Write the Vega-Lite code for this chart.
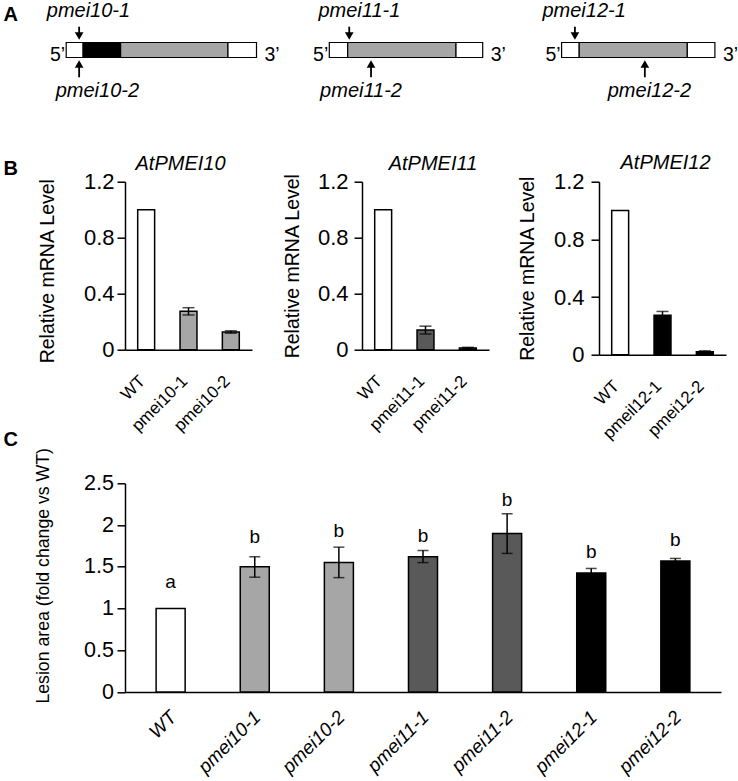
{
  "$schema": "https://vega.github.io/schema/vega-lite/v6.json",
  "padding": {"left": 3, "top": 0, "right": 0, "bottom": 0},
  "background": "white",
  "config": {
    "font": "Liberation Sans",
    "view": {"stroke": null},
    "axis": {"domainColor": "black", "tickColor": "black", "labelColor": "black", "titleColor": "black", "grid": false, "titleFontWeight": "normal", "domainWidth": 1.5, "tickWidth": 1.5},
    "title": {"color": "black"},
    "text": {"color": "black"}
  },
  "datasets": {
    "segments": [
      {"gene": "AtPMEI10", "pos": 0, "pos_end": 8.9, "part": "UTR"},
      {"gene": "AtPMEI10", "pos": 8.9, "pos_end": 28.6, "part": "SP"},
      {"gene": "AtPMEI10", "pos": 28.6, "pos_end": 85, "part": "PMEI"},
      {"gene": "AtPMEI10", "pos": 85, "pos_end": 100, "part": "UTR"},
      {"gene": "AtPMEI11", "pos": 0, "pos_end": 12, "part": "UTR"},
      {"gene": "AtPMEI11", "pos": 12, "pos_end": 82.6, "part": "PMEI"},
      {"gene": "AtPMEI11", "pos": 82.6, "pos_end": 100, "part": "UTR"},
      {"gene": "AtPMEI12", "pos": 0, "pos_end": 11.5, "part": "UTR"},
      {"gene": "AtPMEI12", "pos": 11.5, "pos_end": 82, "part": "PMEI"},
      {"gene": "AtPMEI12", "pos": 82, "pos_end": 100, "part": "UTR"}
    ],
    "inserts": [
      {"gene": "AtPMEI10", "allele": "pmei10-1", "pos": 6.8, "label_pos": 11.7, "side": "above"},
      {"gene": "AtPMEI10", "allele": "pmei10-2", "pos": 6.8, "label_pos": 16.4, "side": "below"},
      {"gene": "AtPMEI11", "allele": "pmei11-1", "pos": 13.0, "label_pos": 19.6, "side": "above"},
      {"gene": "AtPMEI11", "allele": "pmei11-2", "pos": 27.2, "label_pos": 20.7, "side": "below"},
      {"gene": "AtPMEI12", "allele": "pmei12-1", "pos": 8.7, "label_pos": 14.7, "side": "above"},
      {"gene": "AtPMEI12", "allele": "pmei12-2", "pos": 54.3, "label_pos": 57.3, "side": "below"}
    ],
    "ends": [
      {"end": "5’", "where": "start", "pos": 0},
      {"end": "3’", "where": "stop", "pos": 100}
    ],
    "mrna": [
      {"gene": "AtPMEI10", "line": "WT", "group": "WT", "value": 1.0, "lo": 1.0, "hi": 1.0},
      {"gene": "AtPMEI10", "line": "pmei10-1", "group": "pmei10", "value": 0.275, "lo": 0.248, "hi": 0.30},
      {"gene": "AtPMEI10", "line": "pmei10-2", "group": "pmei10", "value": 0.127, "lo": 0.118, "hi": 0.135},
      {"gene": "AtPMEI11", "line": "WT", "group": "WT", "value": 1.0, "lo": 1.0, "hi": 1.0},
      {"gene": "AtPMEI11", "line": "pmei11-1", "group": "pmei11", "value": 0.14, "lo": 0.112, "hi": 0.168},
      {"gene": "AtPMEI11", "line": "pmei11-2", "group": "pmei11", "value": 0.012, "lo": 0.007, "hi": 0.017},
      {"gene": "AtPMEI12", "line": "WT", "group": "WT", "value": 1.0, "lo": 1.0, "hi": 1.0},
      {"gene": "AtPMEI12", "line": "pmeil12-1", "group": "pmei12", "value": 0.273, "lo": 0.246, "hi": 0.30},
      {"gene": "AtPMEI12", "line": "pmei12-2", "group": "pmei12", "value": 0.02, "lo": 0.013, "hi": 0.027}
    ],
    "lesion": [
      {"line": "WT", "group": "WT", "value": 1.0, "lo": 1.0, "hi": 1.0, "sig": "a", "sig_y": 1.25},
      {"line": "pmei10-1", "group": "pmei10", "value": 1.50, "lo": 1.375, "hi": 1.62, "sig": "b", "sig_y": 1.79},
      {"line": "pmei10-2", "group": "pmei10", "value": 1.55, "lo": 1.37, "hi": 1.735, "sig": "b", "sig_y": 1.855},
      {"line": "pmei11-1", "group": "pmei11", "value": 1.62, "lo": 1.55, "hi": 1.695, "sig": "b", "sig_y": 1.80},
      {"line": "pmei11-2", "group": "pmei11", "value": 1.90, "lo": 1.66, "hi": 2.135, "sig": "b", "sig_y": 2.23},
      {"line": "pmei12-1", "group": "pmei12", "value": 1.425, "lo": 1.37, "hi": 1.48, "sig": "b", "sig_y": 1.60},
      {"line": "pmei12-2", "group": "pmei12", "value": 1.57, "lo": 1.54, "hi": 1.60, "sig": "b", "sig_y": 1.75}
    ]
  },
  "bounds": "flush",
  "spacing": 181.7,
  "resolve": {"scale": {"fill": "independent"}},
  "vconcat": [
    {
      "bounds": "flush",
      "spacing": 72.3,
      "hconcat": [
        {
          "width": 131.5, "height": 100,
          "resolve": {"scale": {"x": "independent"}},
          "layer": [
            {
              "encoding": {"x": {"field": "pos", "type": "quantitative", "scale": {"domain": [30.9, 100], "nice": false, "zero": false}, "axis": null}},
              "layer": [
                {"data": {"name": "segments"}, "transform": [{"filter": "datum.gene==='AtPMEI10'"}],
                 "mark": {"type": "rect", "stroke": "black", "strokeWidth": 1.2},
                 "encoding": {"x2": {"field": "pos_end"}, "y": {"datum": -1.05, "type": "quantitative", "scale": {"domain": [-7, 7], "nice": false, "zero": false}, "axis": null}, "y2": {"datum": 1.05},
                   "fill": {"field": "part", "type": "nominal", "scale": {"domain": ["UTR", "SP", "PMEI"], "range": ["#ffffff", "#000000", "#a6a6a6"]}, "legend": null}}},
                {"data": {"name": "inserts"}, "transform": [{"filter": "datum.gene==='AtPMEI10' && datum.side==='above'"}],
                 "mark": {"type": "rule", "strokeWidth": 1.8, "color": "black"},
                 "encoding": {"y": {"datum": 3.26, "type": "quantitative", "axis": null}, "y2": {"datum": 2.0}}},
                {"data": {"name": "inserts"}, "transform": [{"filter": "datum.gene==='AtPMEI10' && datum.side==='above'"}],
                 "mark": {"type": "point", "shape": "triangle-down", "size": 75, "filled": true, "color": "black", "opacity": 1},
                 "encoding": {"y": {"datum": 1.95, "type": "quantitative", "axis": null}}},
                {"data": {"name": "inserts"}, "transform": [{"filter": "datum.gene==='AtPMEI10' && datum.side==='below'"}],
                 "mark": {"type": "rule", "strokeWidth": 1.8, "color": "black"},
                 "encoding": {"y": {"datum": -3.82, "type": "quantitative", "axis": null}, "y2": {"datum": -2.0}}},
                {"data": {"name": "inserts"}, "transform": [{"filter": "datum.gene==='AtPMEI10' && datum.side==='below'"}],
                 "mark": {"type": "point", "shape": "triangle-up", "size": 75, "filled": true, "color": "black", "opacity": 1},
                 "encoding": {"y": {"datum": -1.95, "type": "quantitative", "axis": null}}},
                {"data": {"name": "inserts"}, "transform": [{"filter": "datum.gene==='AtPMEI10' && datum.side==='above'"}],
                 "mark": {"type": "text", "fontSize": 20, "fontStyle": "italic", "baseline": "alphabetic"},
                 "encoding": {"x": {"field": "label_pos", "type": "quantitative", "axis": null}, "y": {"datum": 4.66, "type": "quantitative", "axis": null}, "text": {"field": "allele"}}},
                {"data": {"name": "inserts"}, "transform": [{"filter": "datum.gene==='AtPMEI10' && datum.side==='below'"}],
                 "mark": {"type": "text", "fontSize": 20, "fontStyle": "italic", "baseline": "alphabetic"},
                 "encoding": {"x": {"field": "label_pos", "type": "quantitative", "axis": null}, "y": {"datum": -6.54, "type": "quantitative", "axis": null}, "text": {"field": "allele"}}},
                {"data": {"name": "ends"}, "transform": [{"filter": "datum.where==='start'"}],
                 "mark": {"type": "text", "fontSize": 19.5, "baseline": "alphabetic", "align": "right", "dx": -1},
                 "encoding": {"y": {"datum": -1.55, "type": "quantitative", "axis": null}, "text": {"field": "end"}}},
                {"data": {"name": "ends"}, "transform": [{"filter": "datum.where==='stop'"}],
                 "mark": {"type": "text", "fontSize": 19.5, "baseline": "alphabetic", "align": "left", "dx": 8},
                 "encoding": {"y": {"datum": -1.55, "type": "quantitative", "axis": null}, "text": {"field": "end"}}}
              ]
            },
            {"data": {"values": [{"panel": "A"}]},
             "mark": {"type": "text", "fontSize": 20, "fontWeight": "bold", "baseline": "alphabetic", "align": "left"},
             "encoding": {"x": {"datum": -0.924, "type": "quantitative", "scale": {"domain": [0, 1], "nice": false, "zero": false}, "axis": null}, "y": {"datum": 4.1, "type": "quantitative", "axis": null}, "text": {"field": "panel"}}}
          ]
        },
        {
          "width": 153.4, "height": 100,
          "encoding": {"x": {"field": "pos", "type": "quantitative", "scale": {"domain": [0, 100], "nice": false, "zero": false}, "axis": null}},
          "layer": [
            {"data": {"name": "segments"}, "transform": [{"filter": "datum.gene==='AtPMEI11'"}],
             "mark": {"type": "rect", "stroke": "black", "strokeWidth": 1.2},
             "encoding": {"x2": {"field": "pos_end"}, "y": {"datum": -1.05, "type": "quantitative", "scale": {"domain": [-7, 7], "nice": false, "zero": false}, "axis": null}, "y2": {"datum": 1.05},
               "fill": {"field": "part", "type": "nominal", "scale": {"domain": ["UTR", "SP", "PMEI"], "range": ["#ffffff", "#000000", "#a6a6a6"]}, "legend": null}}},
            {"data": {"name": "inserts"}, "transform": [{"filter": "datum.gene==='AtPMEI11' && datum.side==='above'"}],
             "mark": {"type": "rule", "strokeWidth": 1.8, "color": "black"},
             "encoding": {"y": {"datum": 3.26, "type": "quantitative", "axis": null}, "y2": {"datum": 2.0}}},
            {"data": {"name": "inserts"}, "transform": [{"filter": "datum.gene==='AtPMEI11' && datum.side==='above'"}],
             "mark": {"type": "point", "shape": "triangle-down", "size": 75, "filled": true, "color": "black", "opacity": 1},
             "encoding": {"y": {"datum": 1.95, "type": "quantitative", "axis": null}}},
            {"data": {"name": "inserts"}, "transform": [{"filter": "datum.gene==='AtPMEI11' && datum.side==='below'"}],
             "mark": {"type": "rule", "strokeWidth": 1.8, "color": "black"},
             "encoding": {"y": {"datum": -3.82, "type": "quantitative", "axis": null}, "y2": {"datum": -2.0}}},
            {"data": {"name": "inserts"}, "transform": [{"filter": "datum.gene==='AtPMEI11' && datum.side==='below'"}],
             "mark": {"type": "point", "shape": "triangle-up", "size": 75, "filled": true, "color": "black", "opacity": 1},
             "encoding": {"y": {"datum": -1.95, "type": "quantitative", "axis": null}}},
            {"data": {"name": "inserts"}, "transform": [{"filter": "datum.gene==='AtPMEI11' && datum.side==='above'"}],
             "mark": {"type": "text", "fontSize": 20, "fontStyle": "italic", "baseline": "alphabetic"},
             "encoding": {"x": {"field": "label_pos", "type": "quantitative", "axis": null}, "y": {"datum": 4.66, "type": "quantitative", "axis": null}, "text": {"field": "allele"}}},
            {"data": {"name": "inserts"}, "transform": [{"filter": "datum.gene==='AtPMEI11' && datum.side==='below'"}],
             "mark": {"type": "text", "fontSize": 20, "fontStyle": "italic", "baseline": "alphabetic"},
             "encoding": {"x": {"field": "label_pos", "type": "quantitative", "axis": null}, "y": {"datum": -6.54, "type": "quantitative", "axis": null}, "text": {"field": "allele"}}},
            {"data": {"name": "ends"}, "transform": [{"filter": "datum.where==='start'"}],
             "mark": {"type": "text", "fontSize": 19.5, "baseline": "alphabetic", "align": "right", "dx": -1},
             "encoding": {"y": {"datum": -1.55, "type": "quantitative", "axis": null}, "text": {"field": "end"}}},
            {"data": {"name": "ends"}, "transform": [{"filter": "datum.where==='stop'"}],
             "mark": {"type": "text", "fontSize": 19.5, "baseline": "alphabetic", "align": "left", "dx": 8},
             "encoding": {"y": {"datum": -1.55, "type": "quantitative", "axis": null}, "text": {"field": "end"}}}
          ]
        },
        {
          "width": 159.3, "height": 100,
          "encoding": {"x": {"field": "pos", "type": "quantitative", "scale": {"domain": [-3.9, 100], "nice": false, "zero": false}, "axis": null}},
          "layer": [
            {"data": {"name": "segments"}, "transform": [{"filter": "datum.gene==='AtPMEI12'"}],
             "mark": {"type": "rect", "stroke": "black", "strokeWidth": 1.2},
             "encoding": {"x2": {"field": "pos_end"}, "y": {"datum": -1.05, "type": "quantitative", "scale": {"domain": [-7, 7], "nice": false, "zero": false}, "axis": null}, "y2": {"datum": 1.05},
               "fill": {"field": "part", "type": "nominal", "scale": {"domain": ["UTR", "SP", "PMEI"], "range": ["#ffffff", "#000000", "#a6a6a6"]}, "legend": null}}},
            {"data": {"name": "inserts"}, "transform": [{"filter": "datum.gene==='AtPMEI12' && datum.side==='above'"}],
             "mark": {"type": "rule", "strokeWidth": 1.8, "color": "black"},
             "encoding": {"y": {"datum": 3.26, "type": "quantitative", "axis": null}, "y2": {"datum": 2.0}}},
            {"data": {"name": "inserts"}, "transform": [{"filter": "datum.gene==='AtPMEI12' && datum.side==='above'"}],
             "mark": {"type": "point", "shape": "triangle-down", "size": 75, "filled": true, "color": "black", "opacity": 1},
             "encoding": {"y": {"datum": 1.95, "type": "quantitative", "axis": null}}},
            {"data": {"name": "inserts"}, "transform": [{"filter": "datum.gene==='AtPMEI12' && datum.side==='below'"}],
             "mark": {"type": "rule", "strokeWidth": 1.8, "color": "black"},
             "encoding": {"y": {"datum": -3.82, "type": "quantitative", "axis": null}, "y2": {"datum": -2.0}}},
            {"data": {"name": "inserts"}, "transform": [{"filter": "datum.gene==='AtPMEI12' && datum.side==='below'"}],
             "mark": {"type": "point", "shape": "triangle-up", "size": 75, "filled": true, "color": "black", "opacity": 1},
             "encoding": {"y": {"datum": -1.95, "type": "quantitative", "axis": null}}},
            {"data": {"name": "inserts"}, "transform": [{"filter": "datum.gene==='AtPMEI12' && datum.side==='above'"}],
             "mark": {"type": "text", "fontSize": 20, "fontStyle": "italic", "baseline": "alphabetic"},
             "encoding": {"x": {"field": "label_pos", "type": "quantitative", "axis": null}, "y": {"datum": 4.66, "type": "quantitative", "axis": null}, "text": {"field": "allele"}}},
            {"data": {"name": "inserts"}, "transform": [{"filter": "datum.gene==='AtPMEI12' && datum.side==='below'"}],
             "mark": {"type": "text", "fontSize": 20, "fontStyle": "italic", "baseline": "alphabetic"},
             "encoding": {"x": {"field": "label_pos", "type": "quantitative", "axis": null}, "y": {"datum": -6.54, "type": "quantitative", "axis": null}, "text": {"field": "allele"}}},
            {"data": {"name": "ends"}, "transform": [{"filter": "datum.where==='start'"}],
             "mark": {"type": "text", "fontSize": 19.5, "baseline": "alphabetic", "align": "right", "dx": -1},
             "encoding": {"y": {"datum": -1.55, "type": "quantitative", "axis": null}, "text": {"field": "end"}}},
            {"data": {"name": "ends"}, "transform": [{"filter": "datum.where==='stop'"}],
             "mark": {"type": "text", "fontSize": 19.5, "baseline": "alphabetic", "align": "left", "dx": 8},
             "encoding": {"y": {"datum": -1.55, "type": "quantitative", "axis": null}, "text": {"field": "end"}}}
          ]
        }
      ]
    },
    {
      "bounds": "flush",
      "spacing": 301.6,
      "resolve": {"scale": {"fill": "independent"}},
      "vconcat": [
        {
          "bounds": "flush",
          "spacing": 110,
          "hconcat": [
            {
              "width": 127, "height": 168,
              "resolve": {"scale": {"x": "independent"}, "axis": {"x": "independent"}},
              "layer": [
                {
                  "data": {"name": "mrna"},
                  "transform": [{"filter": "datum.gene==='AtPMEI10'"}],
                  "encoding": {"x": {"field": "line", "type": "nominal", "sort": null, "scale": {"paddingInner": 0.6, "paddingOuter": 0.3},
                    "axis": {"title": null, "labelAngle": -45, "labelAlign": "right", "labelBaseline": "alphabetic", "labelFontSize": 17, "ticks": false, "tickSize": 0, "labelPadding": 32}}},
                  "layer": [
                    {"mark": {"type": "bar", "stroke": "black", "strokeWidth": 1.5},
                     "encoding": {"y": {"field": "value", "type": "quantitative", "scale": {"domain": [0, 1.2], "nice": false},
                       "axis": {"title": "Relative mRNA Level", "values": [0, 0.4, 0.8, 1.2], "format": "~g", "labelFontSize": 22, "titleFontSize": 19.5, "tickSize": 8, "labelPadding": 3, "titlePadding": 26, "titleY": 89}},
                       "fill": {"field": "group", "type": "nominal", "scale": {"domain": ["WT", "pmei10", "pmei11", "pmei12"], "range": ["#ffffff", "#a6a6a6", "#595959", "#000000"]}, "legend": null}}},
                    {"transform": [{"filter": "datum.hi > datum.lo"}],
                     "mark": {"type": "errorbar", "ticks": true, "size": 12, "thickness": 1.5, "color": "black"},
                     "encoding": {"y": {"field": "lo", "type": "quantitative",
                       "axis": {"title": "Relative mRNA Level", "values": [0, 0.4, 0.8, 1.2], "format": "~g", "labelFontSize": 22, "titleFontSize": 19.5, "tickSize": 8, "labelPadding": 3, "titlePadding": 26, "titleY": 89}}, "y2": {"field": "hi"}}}
                  ]
                },
                {"data": {"values": [{"gene": "AtPMEI10"}]},
                 "mark": {"type": "text", "fontSize": 20, "fontStyle": "italic", "baseline": "alphabetic", "align": "center"},
                 "encoding": {"x": {"datum": 0.437, "type": "quantitative", "scale": {"domain": [0, 1], "nice": false, "zero": false}, "axis": null},
                   "y": {"datum": 1.286, "type": "quantitative",
                     "axis": {"title": "Relative mRNA Level", "values": [0, 0.4, 0.8, 1.2], "format": "~g", "labelFontSize": 22, "titleFontSize": 19.5, "tickSize": 8, "labelPadding": 3, "titlePadding": 26, "titleY": 89}},
                   "text": {"field": "gene"}}},
                {"data": {"values": [{"panel": "B"}]},
                 "mark": {"type": "text", "fontSize": 20, "fontWeight": "bold", "baseline": "alphabetic", "align": "left"},
                 "encoding": {"x": {"datum": -0.957, "type": "quantitative", "scale": {"domain": [0, 1], "nice": false, "zero": false}, "axis": null},
                   "y": {"datum": 1.25, "type": "quantitative",
                     "axis": {"title": "Relative mRNA Level", "values": [0, 0.4, 0.8, 1.2], "format": "~g", "labelFontSize": 22, "titleFontSize": 19.5, "tickSize": 8, "labelPadding": 3, "titlePadding": 26, "titleY": 89}},
                   "text": {"field": "panel"}}}
              ]
            },
            {
              "width": 127, "height": 168,
              "resolve": {"scale": {"x": "independent"}, "axis": {"x": "independent"}},
              "layer": [
                {
                  "data": {"name": "mrna"},
                  "transform": [{"filter": "datum.gene==='AtPMEI11'"}],
                  "encoding": {"x": {"field": "line", "type": "nominal", "sort": null, "scale": {"paddingInner": 0.6, "paddingOuter": 0.3},
                    "axis": {"title": null, "labelAngle": -45, "labelAlign": "right", "labelBaseline": "alphabetic", "labelFontSize": 17, "ticks": false, "tickSize": 0, "labelPadding": 32}}},
                  "layer": [
                    {"mark": {"type": "bar", "stroke": "black", "strokeWidth": 1.5},
                     "encoding": {"y": {"field": "value", "type": "quantitative", "scale": {"domain": [0, 1.2], "nice": false},
                       "axis": {"title": "Relative mRNA Level", "values": [0, 0.4, 0.8, 1.2], "format": "~g", "labelFontSize": 22, "titleFontSize": 19.5, "tickSize": 8, "labelPadding": 6, "titlePadding": 14.6}},
                       "fill": {"field": "group", "type": "nominal", "scale": {"domain": ["WT", "pmei10", "pmei11", "pmei12"], "range": ["#ffffff", "#a6a6a6", "#595959", "#000000"]}, "legend": null}}},
                    {"transform": [{"filter": "datum.hi > datum.lo"}],
                     "mark": {"type": "errorbar", "ticks": true, "size": 12, "thickness": 1.5, "color": "black"},
                     "encoding": {"y": {"field": "lo", "type": "quantitative",
                       "axis": {"title": "Relative mRNA Level", "values": [0, 0.4, 0.8, 1.2], "format": "~g", "labelFontSize": 22, "titleFontSize": 19.5, "tickSize": 8, "labelPadding": 6, "titlePadding": 14.6}}, "y2": {"field": "hi"}}}
                  ]
                },
                {"data": {"values": [{"gene": "AtPMEI11"}]},
                 "mark": {"type": "text", "fontSize": 20, "fontStyle": "italic", "baseline": "alphabetic", "align": "center"},
                 "encoding": {"x": {"datum": 0.559, "type": "quantitative", "scale": {"domain": [0, 1], "nice": false, "zero": false}, "axis": null},
                   "y": {"datum": 1.286, "type": "quantitative",
                     "axis": {"title": "Relative mRNA Level", "values": [0, 0.4, 0.8, 1.2], "format": "~g", "labelFontSize": 22, "titleFontSize": 19.5, "tickSize": 8, "labelPadding": 6, "titlePadding": 14.6}},
                   "text": {"field": "gene"}}}
              ]
            },
            {
              "width": 127, "height": 173,
              "resolve": {"scale": {"x": "independent"}, "axis": {"x": "independent"}},
              "layer": [
                {
                  "data": {"name": "mrna"},
                  "transform": [{"filter": "datum.gene==='AtPMEI12'"}],
                  "encoding": {"x": {"field": "line", "type": "nominal", "sort": null, "scale": {"paddingInner": 0.6, "paddingOuter": 0.3},
                    "axis": {"title": null, "labelAngle": -45, "labelAlign": "right", "labelBaseline": "alphabetic", "labelFontSize": 17, "ticks": false, "tickSize": 0, "labelPadding": 32}}},
                  "layer": [
                    {"mark": {"type": "bar", "stroke": "black", "strokeWidth": 1.5},
                     "encoding": {"y": {"field": "value", "type": "quantitative", "scale": {"domain": [0, 1.2], "nice": false},
                       "axis": {"title": "Relative mRNA Level", "values": [0, 0.4, 0.8, 1.2], "format": "~g", "labelFontSize": 22, "titleFontSize": 19.5, "tickSize": 8, "labelPadding": 7, "titlePadding": 16.3}},
                       "fill": {"field": "group", "type": "nominal", "scale": {"domain": ["WT", "pmei10", "pmei11", "pmei12"], "range": ["#ffffff", "#a6a6a6", "#595959", "#000000"]}, "legend": null}}},
                    {"transform": [{"filter": "datum.hi > datum.lo"}],
                     "mark": {"type": "errorbar", "ticks": true, "size": 12, "thickness": 1.5, "color": "black"},
                     "encoding": {"y": {"field": "lo", "type": "quantitative",
                       "axis": {"title": "Relative mRNA Level", "values": [0, 0.4, 0.8, 1.2], "format": "~g", "labelFontSize": 22, "titleFontSize": 19.5, "tickSize": 8, "labelPadding": 7, "titlePadding": 16.3}}, "y2": {"field": "hi"}}}
                  ]
                },
                {"data": {"values": [{"gene": "AtPMEI12"}]},
                 "mark": {"type": "text", "fontSize": 20, "fontStyle": "italic", "baseline": "alphabetic", "align": "center"},
                 "encoding": {"x": {"datum": 0.524, "type": "quantitative", "scale": {"domain": [0, 1], "nice": false, "zero": false}, "axis": null},
                   "y": {"datum": 1.285, "type": "quantitative",
                     "axis": {"title": "Relative mRNA Level", "values": [0, 0.4, 0.8, 1.2], "format": "~g", "labelFontSize": 22, "titleFontSize": 19.5, "tickSize": 8, "labelPadding": 7, "titlePadding": 16.3}},
                   "text": {"field": "gene"}}}
              ]
            }
          ]
        },
        {
          "width": 596, "height": 208.7,
          "resolve": {"scale": {"x": "independent"}, "axis": {"x": "independent"}},
          "layer": [
            {
              "data": {"name": "lesion"},
              "encoding": {"x": {"field": "line", "type": "nominal", "sort": null, "scale": {"paddingInner": 0.655, "paddingOuter": 0.37},
                "axis": {"title": null, "labelAngle": -45, "labelAlign": "right", "labelBaseline": "alphabetic", "labelFontSize": 19, "labelFontStyle": "italic", "ticks": false, "tickSize": 0, "labelPadding": 26, "labelOffset": 7}}},
              "layer": [
                {"mark": {"type": "bar", "stroke": "black", "strokeWidth": 1.5},
                 "encoding": {"y": {"field": "value", "type": "quantitative", "scale": {"domain": [0, 2.5], "nice": false},
                   "axis": {"title": "Lesion area (fold change vs WT)", "values": [0, 0.5, 1, 1.5, 2, 2.5], "format": "~g", "labelFontSize": 21.5, "titleFontSize": 17.7, "tickSize": 8, "labelPadding": 3.5, "titlePadding": 31, "titleY": 92}},
                   "fill": {"field": "group", "type": "nominal", "scale": {"domain": ["WT", "pmei10", "pmei11", "pmei12"], "range": ["#ffffff", "#a6a6a6", "#595959", "#000000"]}, "legend": null}}},
                {"transform": [{"filter": "datum.hi > datum.lo"}],
                 "mark": {"type": "errorbar", "ticks": true, "size": 11, "thickness": 1.5, "color": "black"},
                 "encoding": {"y": {"field": "lo", "type": "quantitative",
                   "axis": {"title": "Lesion area (fold change vs WT)", "values": [0, 0.5, 1, 1.5, 2, 2.5], "format": "~g", "labelFontSize": 21.5, "titleFontSize": 17.7, "tickSize": 8, "labelPadding": 3.5, "titlePadding": 31, "titleY": 92}}, "y2": {"field": "hi"}}},
                {"mark": {"type": "text", "fontSize": 19, "baseline": "alphabetic"},
                 "encoding": {"y": {"field": "sig_y", "type": "quantitative",
                   "axis": {"title": "Lesion area (fold change vs WT)", "values": [0, 0.5, 1, 1.5, 2, 2.5], "format": "~g", "labelFontSize": 21.5, "titleFontSize": 17.7, "tickSize": 8, "labelPadding": 3.5, "titlePadding": 31, "titleY": 92}}, "text": {"field": "sig"}}}
              ]
            },
            {"data": {"values": [{"panel": "C"}]},
             "mark": {"type": "text", "fontSize": 20, "fontWeight": "bold", "baseline": "alphabetic", "align": "left"},
             "encoding": {"x": {"datum": -0.204, "type": "quantitative", "scale": {"domain": [0, 1], "nice": false, "zero": false}, "axis": null},
               "y": {"datum": 2.947, "type": "quantitative",
                 "axis": {"title": "Lesion area (fold change vs WT)", "values": [0, 0.5, 1, 1.5, 2, 2.5], "format": "~g", "labelFontSize": 21.5, "titleFontSize": 17.7, "tickSize": 8, "labelPadding": 3.5, "titlePadding": 31, "titleY": 92}},
               "text": {"field": "panel"}}}
          ]
        }
      ]
    }
  ]
}
